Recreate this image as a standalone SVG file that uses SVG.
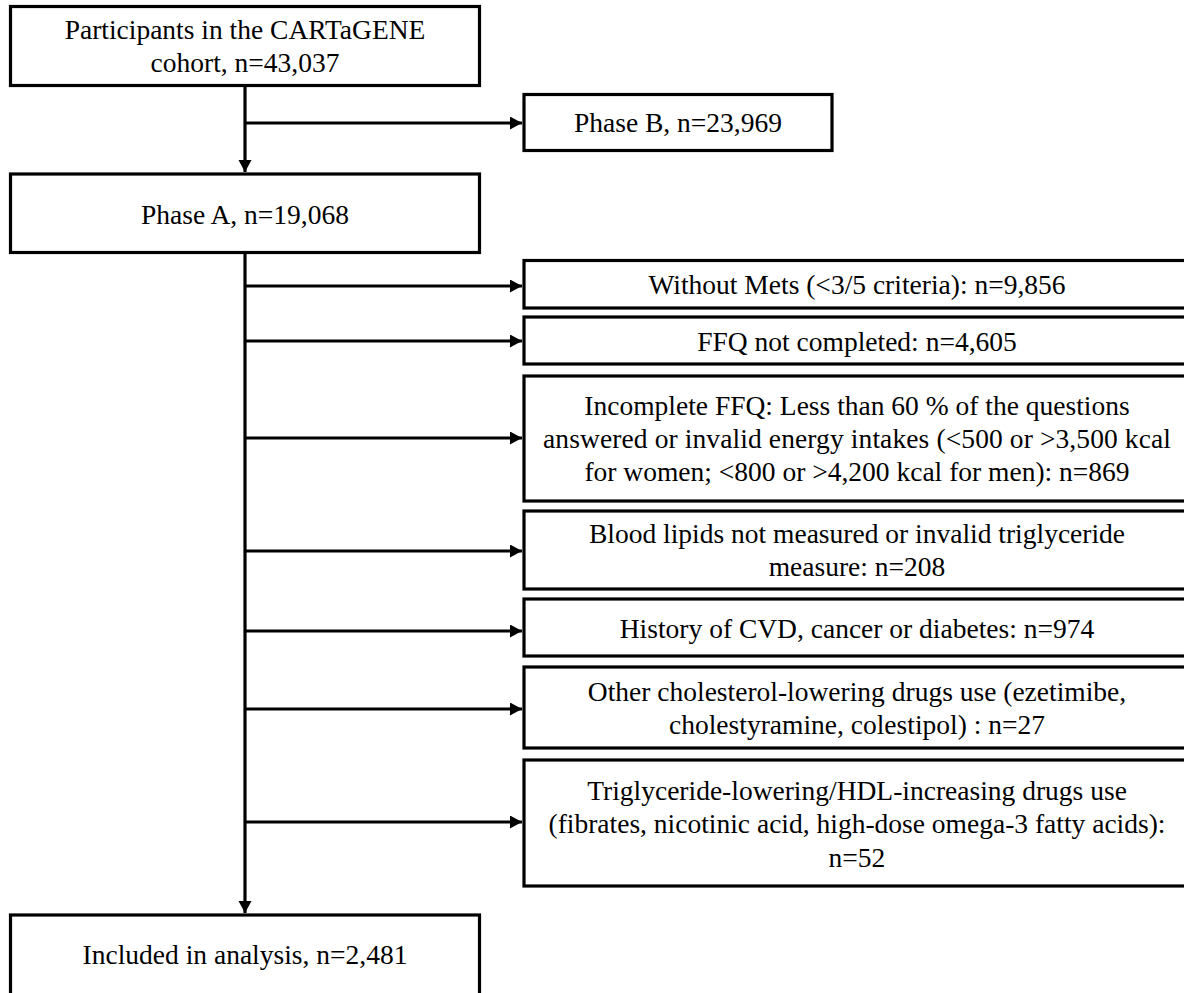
<svg xmlns="http://www.w3.org/2000/svg" width="1184" height="993" viewBox="0 0 1184 993">
<style>
.box{fill:#fff;stroke:#000;stroke-width:3.2}
text{font-family:'Liberation Serif',Tinos,'Times New Roman','DejaVu Serif',serif;font-size:27.5px;fill:#000;text-anchor:middle}
.c{fill:none;stroke:#000;stroke-width:3.2}
</style>
<defs>
<marker id="ah" markerUnits="userSpaceOnUse" markerWidth="13" markerHeight="14" refX="12" refY="6.5" orient="auto">
<path d="M0,0 L12,6.5 L0,13 z" fill="#000"/>
</marker>
</defs>
<rect width="1184" height="993" fill="#fff"/>
<g id="connectors">
<line class="c" x1="245" y1="85" x2="245" y2="172" marker-end="url(#ah)"/>
<line class="c" x1="245" y1="123" x2="522" y2="123" marker-end="url(#ah)"/>
<line class="c" x1="245" y1="252" x2="245" y2="913" marker-end="url(#ah)"/>
<line class="c" x1="245" y1="286" x2="522" y2="286" marker-end="url(#ah)"/>
<line class="c" x1="245" y1="341" x2="522" y2="341" marker-end="url(#ah)"/>
<line class="c" x1="245" y1="438" x2="522" y2="438" marker-end="url(#ah)"/>
<line class="c" x1="245" y1="551" x2="522" y2="551" marker-end="url(#ah)"/>
<line class="c" x1="245" y1="631" x2="522" y2="631" marker-end="url(#ah)"/>
<line class="c" x1="245" y1="709" x2="522" y2="709" marker-end="url(#ah)"/>
<line class="c" x1="245" y1="822" x2="522" y2="822" marker-end="url(#ah)"/>
</g>
<g id="participants">
<rect class="box" x="10.5" y="6.5" width="469" height="79"/>
<text x="245" y="39">Participants in the CARTaGENE</text>
<text x="245" y="72">cohort, n=43,037</text>
</g>
<g id="phaseB">
<rect class="box" x="524" y="94.5" width="308" height="56"/>
<text x="678" y="132">Phase B, n=23,969</text>
</g>
<g id="phaseA">
<rect class="box" x="10.5" y="174" width="469" height="78.5"/>
<text x="245" y="224">Phase A, n=19,068</text>
</g>
<g id="withoutMets">
<rect class="box" x="524" y="260.5" width="668" height="47.5"/>
<text x="857" y="294">Without Mets (&lt;3/5 criteria): n=9,856</text>
</g>
<g id="ffqNotCompleted">
<rect class="box" x="524" y="317" width="668" height="47"/>
<text x="857" y="351">FFQ not completed: n=4,605</text>
</g>
<g id="incompleteFFQ">
<rect class="box" x="524" y="376" width="668" height="125"/>
<text x="857" y="415">Incomplete FFQ: Less than 60 % of the questions</text>
<text x="857" y="448" textLength="628" lengthAdjust="spacing">answered or invalid energy intakes (&lt;500 or &gt;3,500 kcal</text>
<text x="857" y="481">for women; &lt;800 or &gt;4,200 kcal for men): n=869</text>
</g>
<g id="bloodLipids">
<rect class="box" x="524" y="511" width="668" height="78"/>
<text x="857" y="543">Blood lipids not measured or invalid triglyceride</text>
<text x="857" y="576">measure: n=208</text>
</g>
<g id="history">
<rect class="box" x="524" y="599" width="668" height="57"/>
<text x="857" y="638">History of CVD, cancer or diabetes: n=974</text>
</g>
<g id="otherDrugs">
<rect class="box" x="524" y="667" width="668" height="81"/>
<text x="857" y="701">Other cholesterol-lowering drugs use (ezetimibe,</text>
<text x="857" y="734">cholestyramine, colestipol) : n=27</text>
</g>
<g id="trigDrugs">
<rect class="box" x="524" y="760" width="668" height="126"/>
<text x="857" y="800">Triglyceride-lowering/HDL-increasing drugs use</text>
<text x="857" y="833">(fibrates, nicotinic acid, high-dose omega-3 fatty acids):</text>
<text x="857" y="867">n=52</text>
</g>
<g id="included">
<rect class="box" x="10.5" y="915" width="469" height="81"/>
<text x="245" y="964">Included in analysis, n=2,481</text>
</g>
</svg>
